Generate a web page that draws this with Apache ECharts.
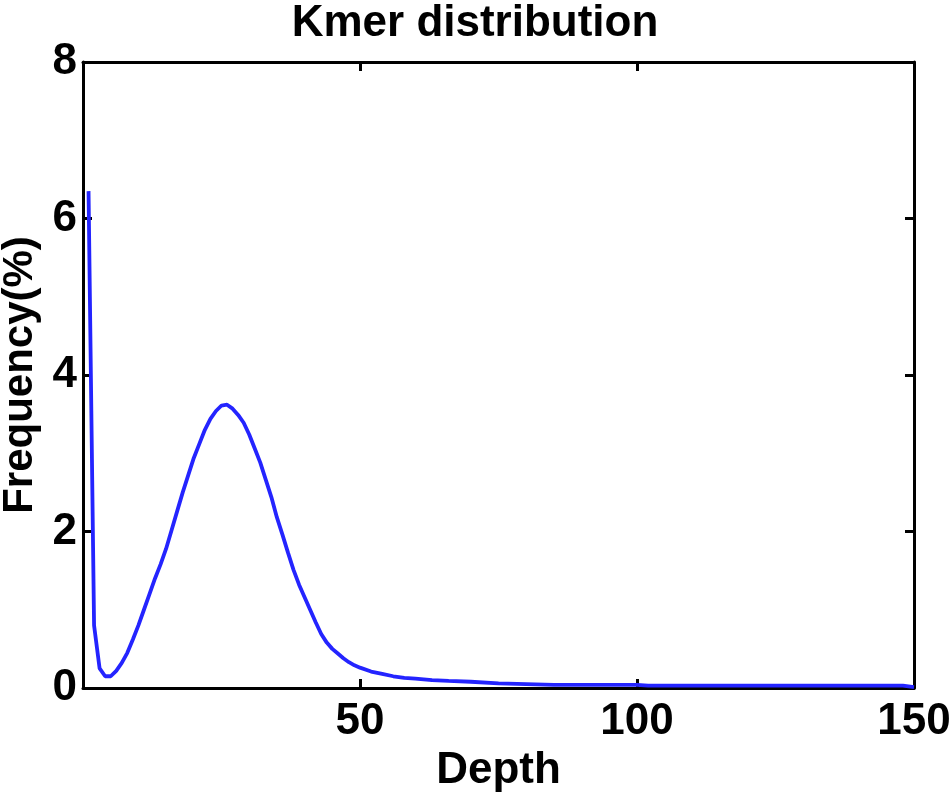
<!DOCTYPE html>
<html>
<head>
<meta charset="utf-8">
<script src="https://cdn.jsdelivr.net/npm/echarts@6/dist/echarts.min.js"></script>
<style>html,body{margin:0;padding:0;background:#fff;}#c{width:950px;height:807px;}</style>
</head>
<body>
<div id="c"></div>
<script>
const titleText = 'Kmer distribution';
const xName = 'Depth';
const yName = 'Frequency(%)';
const xTicks = [50, 100, 150];
const yTicks = [0, 2, 4, 6, 8];
const depth = [1,2,3,4,5,6,7,8,9,10,11,12,13,14,15,16,17,18,19,20,21,22,23,24,25,26,27,28,29,30,31,32,33,34,35,36,37,38,39,40,41,42,43,44,45,46,47,48,49,50,52,54,56,58,60,63,66,70,75,80,85,90,95,100,102,110,120,130,140,148,150];
const freq = [6.35,0.80,0.25,0.15,0.15,0.22,0.32,0.45,0.62,0.80,1.00,1.20,1.40,1.58,1.78,2.02,2.26,2.50,2.72,2.94,3.12,3.30,3.44,3.54,3.61,3.62,3.57,3.49,3.39,3.24,3.06,2.88,2.66,2.44,2.18,1.96,1.73,1.51,1.32,1.16,1.00,0.84,0.69,0.58,0.50,0.44,0.38,0.33,0.29,0.26,0.21,0.18,0.15,0.13,0.12,0.10,0.09,0.08,0.06,0.05,0.04,0.04,0.04,0.04,0.03,0.03,0.03,0.03,0.03,0.03,0.01];

const FONT = '"Liberation Sans Narrow", "Liberation Sans", Arial, sans-serif';
const chart = echarts.init(document.getElementById('c'));
const axisLine = {show: true, onZero: false, lineStyle: {color: '#000', width: 3}};
const tick = {show: true, inside: true, length: 9, lineStyle: {color: '#000', width: 3}};
chart.setOption({
  animation: false,
  backgroundColor: '#fff',
  title: {
    text: titleText, left: 'center', top: -3,
    textStyle: {fontFamily: FONT, fontWeight: 'bold', fontSize: 44, color: '#000'}
  },
  grid: {left: 83, right: 36, top: 62, bottom: 119, containLabel: false, outerBoundsMode: 'none'},
  xAxis: [{
    type: 'value', min: 0, max: 150, interval: 50,
    name: xName, nameLocation: 'middle', nameGap: 30,
    nameTextStyle: {fontFamily: FONT, fontWeight: 'bold', fontSize: 44, color: '#000'},
    axisLine: axisLine, axisTick: tick, splitLine: {show: false},
    axisLabel: {
      margin: 12, fontFamily: FONT, fontWeight: 'bold', fontSize: 44, color: '#000',
      formatter: v => xTicks.indexOf(v) >= 0 ? String(v) : ''
    }
  }, {
    type: 'value', min: 0, max: 150, interval: 50, position: 'top',
    axisLine: axisLine, axisTick: tick, axisLabel: {show: false}, splitLine: {show: false}
  }],
  yAxis: [{
    type: 'value', min: 0, max: 8, interval: 2,
    name: yName, nameLocation: 'middle', nameGap: 35, nameRotate: 90,
    nameTextStyle: {fontFamily: FONT, fontWeight: 'bold', fontSize: 42, color: '#000'},
    axisLine: axisLine, axisTick: tick, splitLine: {show: false},
    axisLabel: {
      margin: 6, fontFamily: FONT, fontWeight: 'bold', fontSize: 44, color: '#000',
      formatter: v => yTicks.indexOf(v) >= 0 ? String(v) : ''
    }
  }, {
    type: 'value', min: 0, max: 8, interval: 2, position: 'right',
    axisLine: axisLine, axisTick: tick, axisLabel: {show: false}, splitLine: {show: false}
  }],
  series: [{
    type: 'line', xAxisIndex: 0, yAxisIndex: 0,
    data: depth.map((d, i) => [d, freq[i]]),
    showSymbol: false, symbol: 'none',
    lineStyle: {color: '#2424ff', width: 3.8},
    z: 1
  }]
});
</script>
</body>
</html>
